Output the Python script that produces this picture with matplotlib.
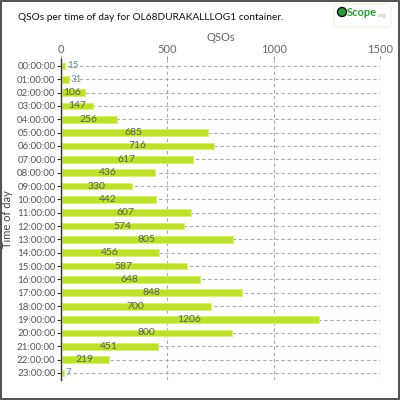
import matplotlib
matplotlib.use("Agg")
import matplotlib.pyplot as plt
from matplotlib.patches import Rectangle, FancyBboxPatch, Circle

hours = ["00:00:00", "01:00:00", "02:00:00", "03:00:00", "04:00:00", "05:00:00",
         "06:00:00", "07:00:00", "08:00:00", "09:00:00", "10:00:00", "11:00:00",
         "12:00:00", "13:00:00", "14:00:00", "15:00:00", "16:00:00", "17:00:00",
         "18:00:00", "19:00:00", "20:00:00", "21:00:00", "22:00:00", "23:00:00"]
qsos = [15, 31, 106, 147, 256, 685, 716, 617, 436, 330, 442, 607,
        574, 805, 456, 587, 648, 848, 700, 1206, 800, 451, 219, 7]
xticks = [0, 500, 1000, 1500]

plt.rcParams['font.family'] = ['Lato', 'DejaVu Sans']

fig = plt.figure(figsize=(4, 4), dpi=100)
fig.patch.set_facecolor("white")
ax = fig.add_axes([0.1525, 0.051, 0.7975, 0.801])

y = list(range(len(hours)))
ax.set_ylim(len(hours) - 0.5, -0.5)
ax.set_xlim(0, 1500)

# grid
for xv in xticks[1:]:
    ax.axvline(xv, color="#aaaaaa", lw=0.8, ls=(0, (3, 2.5)), zorder=0)
for yi in y:
    ax.axhline(yi, color="#aaaaaa", lw=0.8, ls=(0, (3, 2.5)), zorder=0)

ax.barh(y, qsos, height=0.5, left=5, color="#bde12b", edgecolor="#d6ef75",
        linewidth=0.8, zorder=2)

for yi, v in zip(y, qsos):
    if v < 60:
        ax.text(v + 12, yi, str(v), va="center", ha="left", fontsize=7,
                color="#5f8f8c", zorder=3)
    else:
        ax.text(v / 2, yi, str(v), va="center", ha="center", fontsize=7.5,
                color="#55605a", zorder=3)

ax.set_yticks(y)
ax.set_yticklabels(hours)
ax.set_xticks(xticks)
ax.set_xticklabels([str(t) for t in xticks])
ax.xaxis.tick_top()
ax.xaxis.set_label_position("top")
ax.set_xlabel("QSOs", fontsize=8, color="#666666", labelpad=2)
ax.set_ylabel("Time of day", fontsize=8, color="#444444")
ax.yaxis.set_label_coords(-48 / 319, 0.5)
ax.tick_params(axis="y", labelsize=7, labelcolor="#555555", length=3,
               color="#333333", pad=1)
ax.tick_params(axis="x", labelsize=8, labelcolor="#666666", length=2,
               color="#999999", pad=1)
for s in ["top", "right", "bottom"]:
    ax.spines[s].set_visible(False)
ax.spines["left"].set_color("#333333")
ax.spines["left"].set_linewidth(1.0)

fig.text(18 / 400, 1 - 17 / 400, "QSOs per time of day for OL68DURAKALLLOG1 container.",
         fontsize=7.3, color="#111111", va="center", ha="left")

# logo
fig.patches.append(FancyBboxPatch((334 / 400, 1 - 27 / 400), 57 / 400, 23 / 400,
                                  boxstyle="round,pad=0,rounding_size=0.008",
                                  transform=fig.transFigure, facecolor="white",
                                  edgecolor="#eef3d8", lw=0.8))
fig.patches.append(Circle((342 / 400, 1 - 12 / 400), 4.5 / 400, transform=fig.transFigure,
                          facecolor="#2a9a3a", edgecolor="#111111", lw=1.0))
fig.text(347 / 400, 1 - 13 / 400, "Scope", fontsize=8, color="#2a9a3a",
         fontweight="bold", va="center", ha="left")
fig.text(378 / 400, 1 - 16 / 400, ".org", fontsize=3.5, color="#8cc070",
         va="center", ha="left")

# frame
fig.patches.append(Rectangle((0.002, 0.002), 0.996, 0.996, transform=fig.transFigure,
                             fill=False, edgecolor="#555555", lw=1.5))

fig.savefig("out.png", dpi=100)
